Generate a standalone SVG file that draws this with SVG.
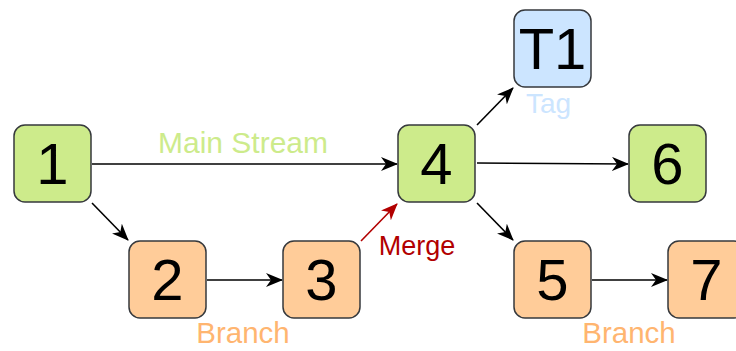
<svg xmlns="http://www.w3.org/2000/svg" width="736" height="351" viewBox="0 0 736 351">
<defs>
<marker id="ah" viewBox="0 0 17 14" refX="16" refY="7" markerWidth="17" markerHeight="14" markerUnits="userSpaceOnUse" orient="auto">
<path d="M0,0 L17,7 L0,14 L5,7 Z" fill="#000"/>
</marker>
<marker id="ahr" viewBox="0 0 17 14" refX="16" refY="7" markerWidth="17" markerHeight="14" markerUnits="userSpaceOnUse" orient="auto">
<path d="M0,0 L17,7 L0,14 L5,7 Z" fill="#b20000"/>
</marker>
<style>
.n rect{stroke:#36393d;stroke-width:1.5}
.g rect{fill:#cdeb8b}
.o rect{fill:#ffcc99}
.b rect{fill:#cce5ff}
.n text{font-family:"Liberation Sans",Arial,sans-serif;font-size:58px;text-anchor:middle;fill:#000}
.c line{stroke:#000;stroke-width:1.6;fill:none;marker-end:url(#ah)}
.c line.m{stroke:#b20000;marker-end:url(#ahr)}
.l{font-family:"Liberation Sans",Arial,sans-serif;font-size:30px;text-anchor:middle}
</style>
</defs>
<rect width="736" height="351" fill="#fff"/>
<g id="connectors" class="c">
<line x1="92" y1="164" x2="397" y2="164"/>
<line x1="92" y1="203" x2="128" y2="240"/>
<line x1="207" y1="280" x2="282" y2="280"/>
<line class="m" x1="361" y1="241" x2="397" y2="204"/>
<line x1="477" y1="125" x2="513" y2="88"/>
<line x1="477" y1="163" x2="628" y2="164"/>
<line x1="477" y1="203" x2="513" y2="240"/>
<line x1="592" y1="280" x2="667" y2="280"/>
</g>
<g id="n1" class="n g"><rect x="14" y="125" width="77" height="77" rx="11"/><text x="52.5" y="184">1</text></g>
<g id="n2" class="n o"><rect x="129" y="241" width="77" height="77" rx="11"/><text x="167.5" y="300">2</text></g>
<g id="n3" class="n o"><rect x="283" y="241" width="77" height="77" rx="11"/><text x="321.5" y="300">3</text></g>
<g id="n4" class="n g"><rect x="398" y="125" width="77" height="77" rx="11"/><text x="436.5" y="184">4</text></g>
<g id="nT1" class="n b"><rect x="514" y="10" width="77" height="77" rx="11"/><text x="552.5" y="69">T1</text></g>
<g id="n6" class="n g"><rect x="629" y="125" width="77" height="77" rx="11"/><text x="667.5" y="184">6</text></g>
<g id="n5" class="n o"><rect x="514" y="241" width="77" height="77" rx="11"/><text x="552.5" y="300">5</text></g>
<g id="n7" class="n o"><rect x="668" y="241" width="77" height="77" rx="11"/><text x="706.5" y="300">7</text></g>
<g id="labels">
<text class="l" x="243" y="152.5" fill="#cdeb8b">Main Stream</text>
<text class="l" x="417" y="255" fill="#b20000" style="font-size:27px">Merge</text>
<text class="l" x="548.5" y="113" fill="#cce5ff" style="font-size:28px">Tag</text>
<text class="l" x="243" y="343" fill="#ffb570" style="font-size:29.5px">Branch</text>
<text class="l" x="629" y="343" fill="#ffb570" style="font-size:29.5px">Branch</text>
</g>
</svg>
